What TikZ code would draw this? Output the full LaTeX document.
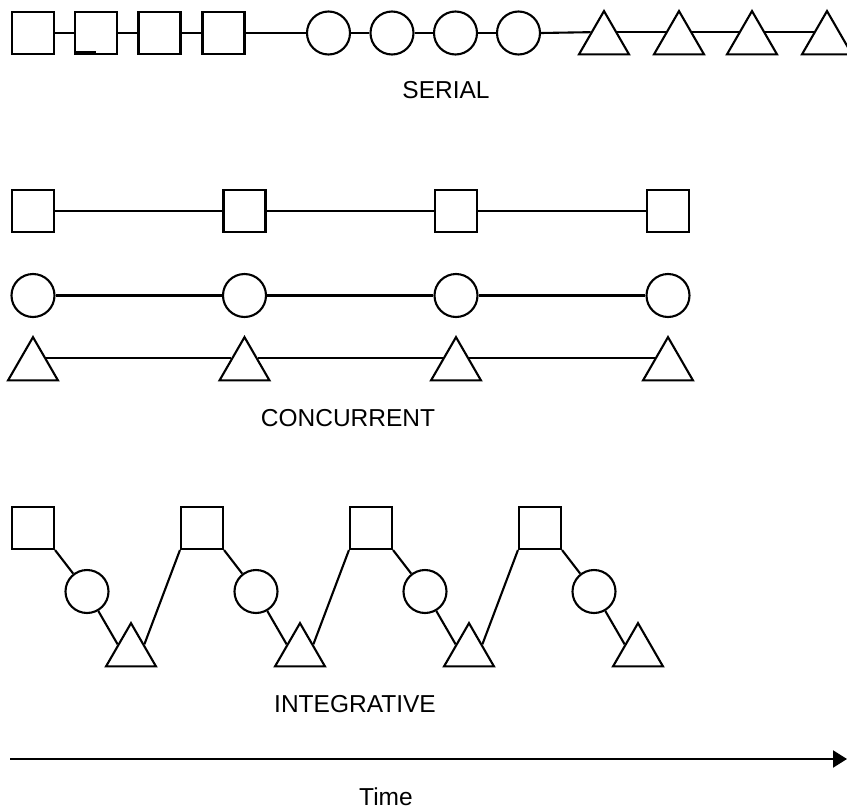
\documentclass[tikz,border=0pt]{standalone}
\usepackage{fontspec}
\setmainfont{Liberation Sans}
\usetikzlibrary{shapes.geometric,arrows.meta}

\tikzset{
  lw/.style={line width=2.1pt},
  sq/.style={lw, draw, rectangle, minimum size=42pt, inner sep=0pt},
  cir/.style={lw, draw, circle, minimum size=43pt, inner sep=0pt},
  tri/.style={lw, draw, regular polygon, regular polygon sides=3,
              minimum size=57.7pt, inner sep=0pt},
  link/.style={lw},
  caption/.style={font=\fontsize{24.5}{28}\selectfont, anchor=base, inner sep=0pt},
}

\begin{document}
\begin{tikzpicture}[x=1pt, y=-1pt]
  \useasboundingbox (0,0) rectangle (847,809);
  \clip (0,0) rectangle (847,809);

  % ---- serial: one activity after another ----
  \node[sq] (s1) at (33,33) {};
  \node[sq] (s2) at (96,33) {};
  \node[sq] (s3) at (159.5,33) {};
  \node[sq] (s4) at (223.5,33) {};
  \node[cir] (sc1) at (328.5,33) {};
  \node[cir] (sc2) at (392,33) {};
  \node[cir] (sc3) at (455.5,33) {};
  \node[cir] (sc4) at (518.5,33) {};
  \node[tri] (st1) at (604,39.9) {};
  \node[tri] (st2) at (679,39.9) {};
  \node[tri] (st3) at (752,39.9) {};
  \node[tri] (st4) at (827,39.9) {};
  \draw[link] (s1.east) -- (s2.west);
  \draw[link] (s2.east) -- (s3.west);
  \draw[link] (s3.east) -- (s4.west);
  \draw[link] (s4.east) -- (sc1.west);
  \draw[link] (sc1.east) -- (sc2.west);
  \draw[link] (sc2.east) -- (sc3.west);
  \draw[link] (sc3.east) -- (sc4.west);
  \draw[link] (sc4.east) -- (st1.side 1);
  \draw[link] (st1.side 3) -- (st2.side 1);
  \draw[link] (st2.side 3) -- (st3.side 1);
  \draw[link] (st3.side 3) -- (st4.side 1);
  \coordinate (mA) at (74,52.3);
  \coordinate (mB) at (96,52.3);
  \draw[line width=2.2pt] (mA) -- (mB);
  \node[caption] (serial) at (446,98) {SERIAL};

  % ---- concurrent: parallel tracks ----
  \foreach \i/\x in {1/33, 2/244.5, 3/456, 4/668} {
    \node[sq] (cs\i) at (\x,211) {};
    \node[cir] (cc\i) at (\x,295.5) {};
    \node[tri] (ct\i) at (\x,366) {};
  }
  \foreach \i/\j in {1/2, 2/3, 3/4} {
    \draw[link] (cs\i.east) -- (cs\j.west);
    \draw[link] (cc\i.east) -- (cc\j.west);
    \draw[link] (ct\i.side 3) -- (ct\j.side 1);
  }
  \node[caption] (concurrent) at (348,426) {CONCURRENT};

  % ---- integrative: interleaved cycles ----
  \foreach \i/\x in {1/0, 2/169, 3/338, 4/507} {
    \node[sq] (is\i) at (33+\x,528) {};
    \node[cir] (ic\i) at (87+\x,591.5) {};
    \node[tri] (it\i) at (131+\x,652) {};
    \draw[link] (is\i.south east) -- (ic\i);
    \draw[link] (ic\i) -- (it\i.side 1);
  }
  \foreach \i/\j in {1/2, 2/3, 3/4} {
    \draw[link] (it\i.side 3) -- (is\j.south west);
  }
  \node[caption] (integrative) at (355,712) {INTEGRATIVE};

  % ---- time axis ----
  \coordinate (t0) at (10,759);
  \coordinate (t1) at (847,759);
  \draw[lw, -{Triangle[length=14pt, width=17pt]}] (t0) -- (t1);
  \node[caption] (time) at (386,805) {Time};
\end{tikzpicture}
\end{document}
